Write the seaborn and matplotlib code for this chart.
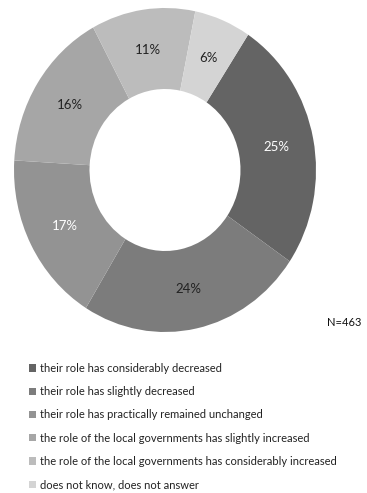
import matplotlib
matplotlib.use("Agg")
import matplotlib.pyplot as plt
from matplotlib.patches import Patch
import numpy as np
import seaborn as sns

categories = [
    "their role has considerably decreased",
    "their role has slightly decreased",
    "their role has practically remained unchanged",
    "the role of the local governments has slightly increased",
    "the role of the local governments has considerably increased",
    "does not know, does not answer",
]
shares = [25, 24, 17, 16, 11, 6]
colors = ["#646464", "#7c7c7c", "#939393", "#a6a6a6", "#bcbcbc", "#d4d4d4"]
label_colors = ["white", "#222222", "white", "#222222", "#222222", "#222222"]
sample_note = "N=463"

sns.set_theme(style="white")
plt.rcParams["font.family"] = ["Lato", "DejaVu Sans"]

W, H = 367, 493
fig = plt.figure(figsize=(W / 100, H / 100), dpi=100)
fig.patch.set_facecolor("white")

# ring area in pixel terms: centre (165,170), radii 151 x 162
cx, cy, rx, ry = 165, 170, 151, 162
ax = fig.add_axes([(cx - rx) / W, (H - (cy + ry)) / H, 2 * rx / W, 2 * ry / H])

wedges, texts = ax.pie(
    shares,
    colors=colors,
    startangle=56.6,
    counterclock=False,
    radius=1.0,
    wedgeprops=dict(width=0.5, linewidth=0),
)
ax.set_aspect("auto")
ax.set_xlim(-1, 1)
ax.set_ylim(-1, 1)
ax.axis("off")

for w, v, tc in zip(wedges, shares, label_colors):
    ang = np.deg2rad((w.theta1 + w.theta2) / 2)
    ax.text(0.75 * np.cos(ang), 0.75 * np.sin(ang), f"{v}%",
            ha="center", va="center", fontsize=9.5, color=tc)

fig.text(327 / W, 1 - 322 / H, sample_note, fontsize=8, color="#111111",
         ha="left", va="center")

handles = [Patch(facecolor=c, edgecolor="none") for c in colors]
fig.legend(
    handles, categories,
    loc="upper left",
    bbox_to_anchor=(29 / W, 1 - 363 / H),
    frameon=False,
    fontsize=8,
    handlelength=0.65,
    handleheight=0.65,
    handletextpad=0.35,
    labelspacing=1.1,
    borderaxespad=0,
    borderpad=0,
    labelcolor="#222222",
)

fig.savefig("out.png", dpi=100, facecolor="white")
